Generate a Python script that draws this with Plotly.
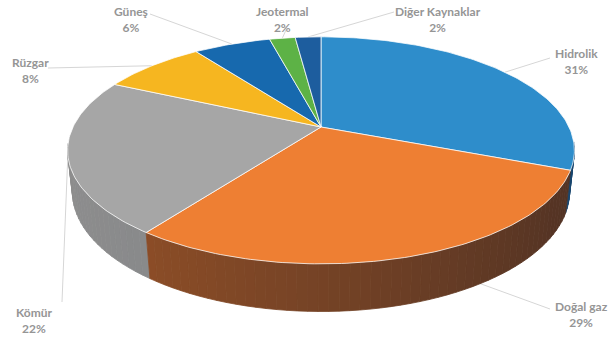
import numpy as np
import plotly.graph_objects as go

# ---- data ----
labels = ["Hidrolik", "Doğal gaz", "Kömür", "Rüzgar", "Güneş", "Jeotermal", "Diğer Kaynaklar"]
values = [31, 29, 22, 8, 6, 2, 2]

# ---- style ----
top_colors = ["#2E8DCB", "#EE7F33", "#A6A6A6", "#F6B620", "#1769AE", "#5DB246", "#1D5D9E"]
side_left = [(30, 95, 140), (155, 84, 40), (142, 142, 142), (170, 125, 20), (15, 70, 120), (60, 120, 45), (20, 65, 110)]
side_right = [(25, 70, 110), (80, 50, 36), (118, 122, 130), (150, 110, 20), (12, 55, 100), (50, 100, 40), (15, 50, 90)]
label_pos = [(576, 61), (581, 314), (34, 320), (30, 70), (131, 19), (282, 19), (438, 19)]   # px centers
anchor_pos = [(550, 58), (550, 309), (62, 302), (48, 68), (150, 14), (286, 30), (394, 12)]   # px

W, Hpx = 612, 356
CX, CY, S = 321, 127, 248
PHI = np.radians(26)
D = 4.37
TH = 0.185


def proj(x, y, z):
    c, s = np.cos(PHI), np.sin(PHI)
    yc = y * c - z * s
    dc = y * s + z * c
    k = D / (D - dc)
    return x * k, yc * k


def px2d(px, py):
    return (px - CX) / S, (CY - py) / S


fig = go.Figure()

vals = np.array(values, dtype=float)
fr = vals / vals.sum()
ends = np.cumsum(fr) * 2 * np.pi
starts = ends - fr * 2 * np.pi
mids = (starts + ends) / 2

# leader lines (drawn first, pie covers their inner ends)
for i in range(len(labels)):
    a = mids[i]
    rx, ry = proj(np.sin(a), 0, -np.cos(a))
    ax, ay = px2d(*anchor_pos[i])
    fig.add_trace(go.Scatter(x=[ax, rx], y=[ay, ry], mode="lines",
                             line=dict(color="#D6D6D6", width=1), hoverinfo="skip", showlegend=False))

# side walls
segs = []
for i in range(len(labels)):
    n = max(2, int(np.ceil((ends[i] - starts[i]) / np.radians(2))))
    angs = np.linspace(starts[i], ends[i], n + 1)
    for a0, a1 in zip(angs[:-1], angs[1:]):
        am = (a0 + a1) / 2
        zm = -np.cos(am)
        if zm < 0.15:
            continue
        segs.append((zm, i, a0, a1, am))
segs.sort(key=lambda t: t[0])
for zm, i, a0, a1, am in segs:
    xs, ys = [], []
    for a, yy in [(a0, 0), (a1, 0), (a1, -TH), (a0, -TH)]:
        X, Y = proj(np.sin(a), yy, -np.cos(a))
        xs.append(X); ys.append(Y)
    t = (np.sin(am) + 1) / 2
    cl, cr = np.array(side_left[i]), np.array(side_right[i])
    col = cl * (1 - t) + cr * t
    cs = "rgb(%d,%d,%d)" % tuple(col.astype(int))
    fig.add_trace(go.Scatter(x=xs + [xs[0]], y=ys + [ys[0]], mode="lines", fill="toself",
                             fillcolor=cs, line=dict(color=cs, width=0.8),
                             hoverinfo="skip", showlegend=False))

# top faces
for i in range(len(labels)):
    angs = np.linspace(starts[i], ends[i], max(3, int(np.degrees(ends[i] - starts[i])) + 2))
    xs, ys = [0.0], [0.0]
    for a in angs:
        X, Y = proj(np.sin(a), 0, -np.cos(a))
        xs.append(X); ys.append(Y)
    xs.append(0.0); ys.append(0.0)
    fig.add_trace(go.Scatter(x=xs, y=ys, mode="lines", fill="toself", fillcolor=top_colors[i],
                             line=dict(color="rgba(255,255,255,0.75)", width=1),
                             hoverinfo="skip", showlegend=False))

# labels
for i in range(len(labels)):
    lx, ly = px2d(*label_pos[i])
    fig.add_annotation(x=lx, y=ly, xref="x", yref="y", showarrow=False,
                       text="<b>%s<br>%d%%</b>" % (labels[i], values[i]),
                       font=dict(family="Lato", size=12, color="#959595"), align="center")

fig.update_layout(
    width=W, height=Hpx, margin=dict(l=0, r=0, t=0, b=0),
    paper_bgcolor="white", plot_bgcolor="white",
    xaxis=dict(range=[-CX / S, (W - CX) / S], visible=False, fixedrange=True),
    yaxis=dict(range=[-(Hpx - CY) / S, CY / S], visible=False, fixedrange=True),
    showlegend=False,
)
fig.write_html("out.html")
